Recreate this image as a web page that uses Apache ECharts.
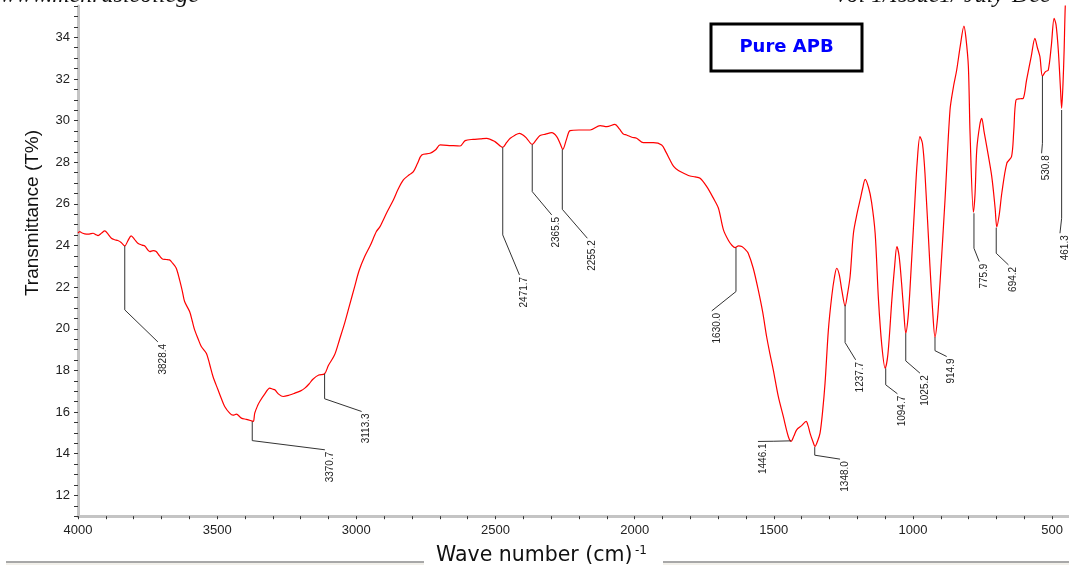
<!DOCTYPE html>
<html>
<head>
<meta charset="utf-8">
<script src="https://cdn.jsdelivr.net/npm/echarts@6/dist/echarts.min.js"></script>
<style>
html,body{margin:0;padding:0;background:#fff;overflow:hidden;width:1069px;height:571px;}
#chart{width:1083px;height:571px;}
</style>
</head>
<body>
<div id="chart"></div>
<script>
// ---- data ----
const wavenumbers = [4000,3994,3985,3976,3960,3946,3935,3928,3915,3904,3892,3880,3868,3857,3845,3832,3820,3809,3797,3785,3770,3760,3742,3730,3719,3707,3695,3683,3671,3660,3647,3635,3625,3617,3599,3590,3581,3568,3557,3539,3527,3515,3497,3485,3473,3455,3443,3431,3413,3395,3377,3370,3365,3355,3347,3330,3311,3300,3293,3278,3263,3240,3221,3200,3185,3170,3156,3135,3114,3100,3078,3060,3042,3025,3006,2990,2970,2950,2928,2915,2890,2867,2850,2831,2810,2795,2780,2765,2735,2715,2699,2660,2627,2609,2580,2555,2532,2502,2474,2460,2447,2430,2414,2400,2388,2368,2355,2340,2320,2298,2280,2268,2258,2245,2232,2200,2160,2124,2100,2071,2055,2040,2029,2010,1993,1969,1950,1933,1903,1888,1873,1860,1843,1820,1801,1783,1765,1741,1717,1699,1681,1663,1650,1639,1627,1615,1602,1592,1574,1556,1540,1526,1514,1502,1484,1466,1448,1438,1428,1418,1400,1384,1377,1370,1360,1352,1343,1334,1325,1316,1304,1292,1282,1274,1265,1256,1244,1235,1226,1214,1200,1190,1180,1172,1160,1149,1136,1124,1112,1100,1090,1076,1066,1058,1050,1041,1033,1026,1018,1011,993,985,975,966,957,939,930,921,912,903,885,867,855,843,830,817,810,801,795,783,777,771,760,753,745,735,717,705,699,690,681,663,646,638,630,615,604,592,575,562,553,544,535,524,514,503,493,486,478,470,466,461,457,453,448];
const transmittance = [24.6,24.67,24.6,24.56,24.55,24.59,24.52,24.48,24.6,24.7,24.55,24.35,24.28,24.24,24.15,23.98,24.25,24.46,24.3,24.11,24.02,23.98,23.71,23.76,23.71,23.5,23.34,23.33,23.31,23.15,22.91,22.35,21.8,21.31,20.83,20.4,19.95,19.5,19.15,18.83,18.3,17.71,17.07,16.65,16.27,15.95,15.85,15.9,15.71,15.65,15.58,15.55,15.95,16.3,16.51,16.85,17.15,17.1,17.07,16.85,16.75,16.82,16.91,17.02,17.15,17.35,17.58,17.78,17.84,18.25,18.75,19.5,20.27,21.1,22.03,22.8,23.47,24.0,24.67,24.91,25.6,26.19,26.7,27.15,27.4,27.55,27.95,28.35,28.43,28.6,28.83,28.8,28.78,29.04,29.1,29.12,29.15,28.99,28.72,28.95,29.15,29.3,29.39,29.3,29.15,28.86,29.05,29.28,29.35,29.42,29.23,28.9,28.62,29.1,29.52,29.55,29.55,29.76,29.71,29.82,29.6,29.35,29.31,29.2,29.15,28.94,28.94,28.94,28.83,28.5,28.11,27.8,27.6,27.45,27.34,27.3,27.23,26.83,26.27,25.79,24.75,24.24,24.0,23.9,23.98,23.95,23.8,23.63,22.91,21.87,20.8,19.63,18.8,18.03,16.75,15.79,14.83,14.6,14.85,15.15,15.35,15.55,15.35,14.99,14.6,14.35,14.6,14.99,16.0,17.39,19.95,21.55,22.5,22.91,22.6,21.87,21.1,21.7,22.51,24.59,25.6,26.19,26.8,27.18,26.8,26.1,24.59,21.39,19.2,18.1,18.8,21.39,23.0,23.95,23.5,22.19,20.8,19.79,20.5,21.87,26.19,28.0,29.23,28.9,27.47,22.99,21.0,19.6,20.5,22.19,26.19,30.51,31.6,32.43,33.6,34.54,34.0,32.59,29.39,25.6,26.5,28.59,29.8,30.11,29.5,28.75,27.31,25.8,24.9,25.5,26.51,27.95,28.27,29.5,30.99,31.05,31.07,31.95,33.1,33.95,33.5,33.07,32.14,32.35,32.43,33.6,34.91,34.6,33.39,31.5,30.59,31.8,33.39,35.47,36.5];

// peak annotations
const peakLabels = ["3828.4","3370.7","3113.3","2471.7","2365.5","2255.2","1630.0","1446.1","1348.0","1237.7","1094.7","1025.2","914.9","775.9","694.2","530.8","461.3"];
const peakWave   = [3832,3374,3114,2474,2368,2260,1636,1438,1353,1244,1098,1026,921,781,701,535,466];
const peakT      = [23.98,15.55,17.84,28.72,28.86,28.62,23.9,14.62,14.32,21.15,18.1,19.79,19.6,25.55,24.86,32.14,30.51];

// leader layout (data units): bend point and label end point
const bendWave = [3832,3374,3114,2474,2368,2260,1636,1500,1353,1244,1098,1026,921,781,701,535,466];
const bendT    = [20.91,14.63,16.64,24.51,26.59,25.74,21.79,14.60,13.93,19.34,17.31,18.46,18.95,23.87,23.63,28.91,25.31];
const endWave  = [3713,3113,2981,2414,2298,2170,1723,1557,1262,1206,1056,975,879,762,657,538,472];
const endT     = [19.37,14.19,16.03,22.59,25.47,24.35,20.86,14.59,13.74,18.51,16.88,17.87,18.67,23.23,23.07,28.43,24.59];

// tick labels
const xTickLabels = [4000,3500,3000,2500,2000,1500,1000,500];
const yTickLabels = [12,14,16,18,20,22,24,26,28,30,32,34];

const spectrum = wavenumbers.map((w,i)=>[w, transmittance[i]]);
const peaks = peakWave.map((w,i)=>[w, peakT[i], i]);

const chart = echarts.init(document.getElementById('chart'), null, {renderer:'canvas'});

const option = {
  animation:false,
  backgroundColor:'#ffffff',
  grid:{left:78, right:0.5, top:6.1, bottom:54.8, containLabel:false},
  xAxis:{
    type:'value', inverse:true, min:400, max:4000, interval:100,
    axisLine:{show:true, lineStyle:{color:'#c4c4c4', width:3}},
    axisTick:{show:true, length:3, lineStyle:{color:'#333', width:1}},
    axisLabel:{
      formatter:v=> xTickLabels.includes(v) ? String(v) : '',
      color:'#222', fontSize:13, fontFamily:'Liberation Sans, Arial, sans-serif', margin:8
    },
    splitLine:{show:false}
  },
  yAxis:{
    type:'value', min:11, max:35.5, interval:0.5,
    axisLine:{show:true, lineStyle:{color:'#c4c4c4', width:3}},
    axisTick:{show:true, length:4, lineStyle:{color:'#333', width:1}},
    axisLabel:{
      formatter:v=> yTickLabels.includes(v) ? String(v) : '',
      color:'#222', fontSize:13, fontFamily:'Liberation Sans, Arial, sans-serif', margin:8
    },
    splitLine:{show:false}
  },
  series:[
    {
      type:'line', data:spectrum, showSymbol:false, smooth:0.3,
      lineStyle:{color:'#ff0000', width:1.2}, z:3
    },
    {
      type:'custom', data:peaks, clip:false, z:4,
      renderItem:(params, api)=>{
        const i = api.value(2);
        const p0 = api.coord([peakWave[i], peakT[i]]);
        const p1 = api.coord([bendWave[i], bendT[i]]);
        const p2 = api.coord([endWave[i], endT[i]]);
        return {
          type:'group',
          children:[
            {type:'polyline', shape:{points:[p0,p1,p2]}, style:{stroke:'#333', lineWidth:1, fill:null}},
            {type:'text', x:p2[0]+5, y:p2[1]+2, rotation:Math.PI/2,
             style:{text:peakLabels[i], fill:'#222', font:'10px "Liberation Sans", Arial, sans-serif', align:'right', verticalAlign:'middle'}}
          ]
        };
      }
    }
  ],
  graphic:[
    {type:'text', x:0, y:-16.5, style:{text:'www.mehrasicollege', fill:'#111', font:'italic 24px "Liberation Serif", serif'}},
    {type:'text', x:836, y:-16.5, style:{text:'vol 1/Issue1/ July-Dec', fill:'#111', font:'italic 24px "Liberation Serif", serif'}},
    {type:'rect', shape:{x:711, y:24, width:151, height:47}, style:{fill:'#fff', stroke:'#000', lineWidth:3}, z:10},
    {type:'text', x:786.5, y:47, z:11, style:{text:'Pure APB', fill:'#0000ff', font:'bold 18px "DejaVu Sans", Verdana, sans-serif', align:'center', verticalAlign:'middle'}},
    {type:'text', x:33, y:213, rotation:Math.PI/2, style:{text:'Transmittance (T%)', fill:'#111', font:'19px "Liberation Sans", Arial, sans-serif', align:'center', verticalAlign:'middle'}},
    {type:'text', x:436, y:556, style:{text:'Wave number (cm)', fill:'#111', font:'20.5px "DejaVu Sans", Verdana, sans-serif', align:'left', verticalAlign:'middle'}},
    {type:'text', x:635, y:551, style:{text:'-1', fill:'#111', font:'12px "DejaVu Sans", Verdana, sans-serif', align:'left', verticalAlign:'middle'}},
    {type:'line', shape:{x1:6, y1:562, x2:424, y2:562}, style:{stroke:'#a8a8a8', lineWidth:2}},
    {type:'line', shape:{x1:663, y1:562, x2:1069, y2:562}, style:{stroke:'#a8a8a8', lineWidth:2}},
    {type:'line', shape:{x1:6, y1:564, x2:424, y2:564}, style:{stroke:'#e6e2d6', lineWidth:1}},
    {type:'line', shape:{x1:663, y1:564, x2:1069, y2:564}, style:{stroke:'#e6e2d6', lineWidth:1}}
  ]
};
chart.setOption(option);
</script>
</body>
</html>
